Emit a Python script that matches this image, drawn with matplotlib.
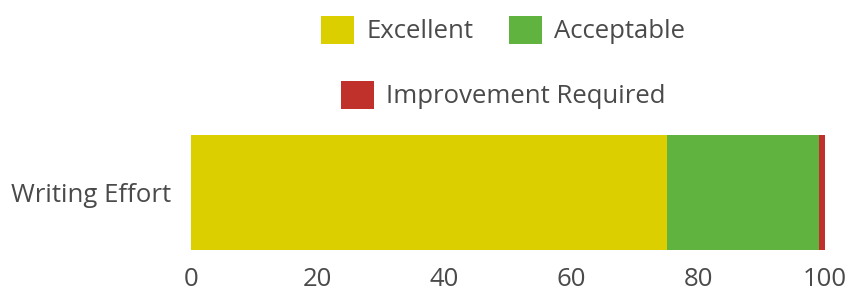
import matplotlib.pyplot as plt
from matplotlib.patches import Patch

plt.rcParams['font.family'] = ['Open Sans', 'DejaVu Sans']

# data
categories = ['Writing Effort']
series_names = ['Excellent', 'Acceptable', 'Improvement Required']
series_values = [[75], [24], [1]]
colors = ['#dccf00', '#5fb33e', '#c1312b']
x_ticks = [0, 20, 40, 60, 80, 100]

fig = plt.figure(figsize=(8.49, 2.91), dpi=100)
ax = fig.add_axes([191 / 849, 1 - 250 / 291, (825 - 191) / 849, 115 / 291])

left = [0] * len(categories)
for name, vals, c in zip(series_names, series_values, colors):
    ax.barh(categories, vals, left=left, height=1.0, color=c, label=name)
    left = [l + v for l, v in zip(left, vals)]

ax.set_xlim(0, 100)
ax.set_ylim(-0.5, 0.5)
ax.set_xticks(x_ticks)
for s in ax.spines.values():
    s.set_visible(False)
ax.tick_params(axis='x', length=0, pad=12, labelsize=18.5, labelcolor='#4a4a4a')
ax.tick_params(axis='y', length=0, pad=14, labelsize=18.5, labelcolor='#4a4a4a')

# legend: two on first row, one centred below
handles = [Patch(facecolor=c, edgecolor='none') for c in colors]
leg_kw = dict(frameon=False, handlelength=1.3, handleheight=1.3,
              handletextpad=0.45, columnspacing=1.4, labelcolor='#4a4a4a',
              prop={'size': 18.5})
fig.legend(handles[:2], series_names[:2], ncol=2, loc='center',
           bbox_to_anchor=(503 / 849, 1 - 30 / 291), **leg_kw)
fig.legend(handles[2:], series_names[2:], ncol=1, loc='center',
           bbox_to_anchor=(503 / 849, 1 - 95 / 291), **leg_kw)

fig.savefig('out.png', dpi=100, facecolor='white')
